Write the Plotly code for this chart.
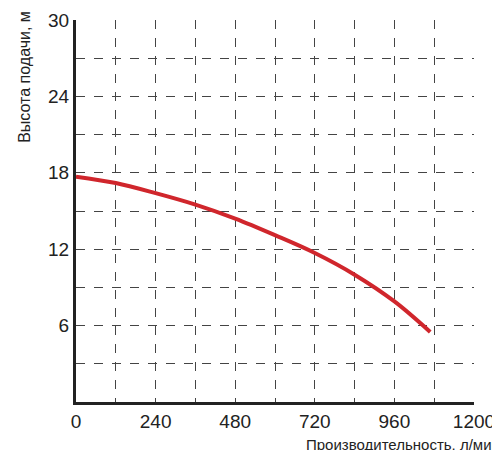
import plotly.graph_objects as go

flow = [0, 120, 240, 360, 480, 600, 720, 840, 960, 1068]
head = [17.7, 17.2, 16.4, 15.5, 14.4, 13.1, 11.7, 10.0, 7.9, 5.5]
x_ticks = [0, 240, 480, 720, 960, 1200]
y_ticks = [6, 12, 18, 24, 30]

fig = go.Figure(go.Scatter(x=flow, y=head, mode="lines", line=dict(color="#d0262c", width=4, shape="spline")))
grid = dict(showgrid=True, gridcolor="#444", griddash="dash", gridwidth=1)
fig.update_xaxes(range=[0, 1200], tickvals=x_ticks, showgrid=False, zeroline=False, automargin=False,
                 showline=True, linecolor="#222", linewidth=3, ticks="",
                 minor=dict(dtick=120, tick0=0, **grid),
                 tickfont=dict(size=19, color="#222", family="Liberation Sans"))
fig.update_yaxes(range=[0, 30], tickvals=y_ticks, showgrid=False, zeroline=False, automargin=False,
                 showline=True, linecolor="#222", linewidth=3, ticks="",
                 minor=dict(dtick=3, tick0=0, **grid),
                 tickfont=dict(size=19, color="#222", family="Liberation Sans"))
fig.add_annotation(text="Производительность, л/мин", xref="paper", yref="paper", x=1.07, y=-0.085,
                   xanchor="right", yanchor="top", showarrow=False,
                   font=dict(size=15, color="#222", family="Liberation Sans"))
fig.add_annotation(text="Высота подачи, м", xref="paper", yref="paper", x=-0.13, y=1.03,
                   xanchor="center", yanchor="top", textangle=-90, showarrow=False,
                   font=dict(size=16, color="#222", family="Liberation Sans"))
fig.update_layout(width=500, height=450, margin=dict(l=68, r=34, t=12, b=56),
                  plot_bgcolor="white", paper_bgcolor="white", showlegend=False)
fig.write_html("out.html")
